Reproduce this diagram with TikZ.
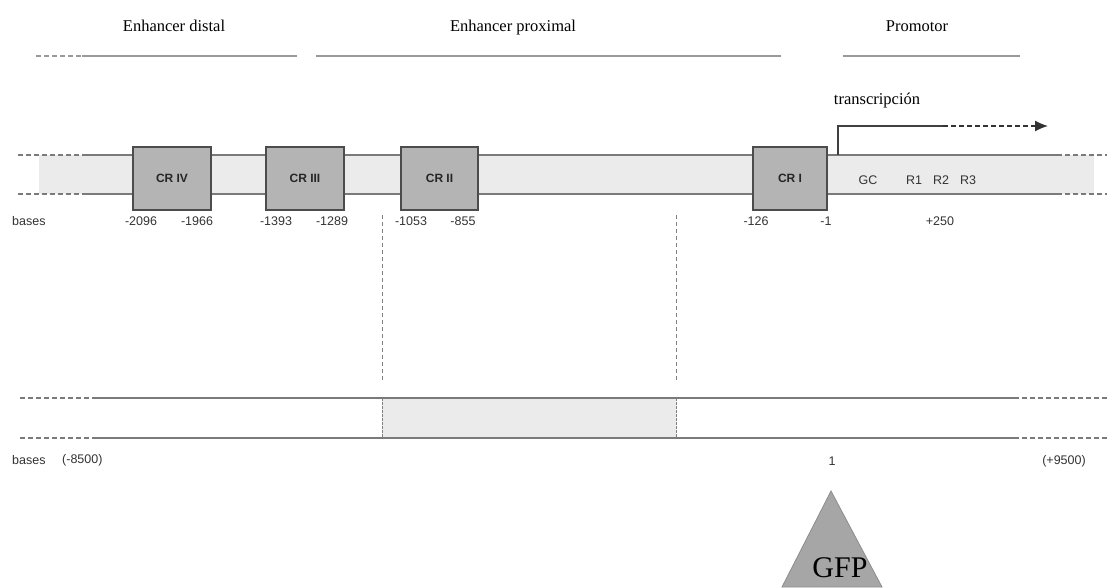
\documentclass[tikz,border=0pt]{standalone}
\usepackage{fontspec}
\setmainfont{Liberation Serif}
\setsansfont{Liberation Sans}
\usetikzlibrary{arrows.meta}
\definecolor{bargray}{HTML}{EBEBEB}
\definecolor{boxgray}{HTML}{B4B4B4}
\definecolor{linegray}{HTML}{7A7A7A}
\definecolor{headgray}{HTML}{9A9A9A}
\definecolor{gfpgray}{HTML}{A6A6A6}
\tikzset{
  crbox/.style={draw=black!70, fill=boxgray, line width=1.2pt, minimum height=63pt, inner sep=0pt,
    font=\sffamily\bfseries\fontsize{12}{14}\selectfont, text=black!85},
  poslabel/.style={font=\sffamily\fontsize{12.5}{14}\selectfont, text=black!80, inner sep=0pt},
  heading/.style={font=\fontsize{16.5}{20}\selectfont, inner sep=0pt, anchor=base},
  dnaline/.style={draw=linegray, line width=1.2pt},
  dnadash/.style={dnaline, dash pattern=on 5pt off 3pt},
  headline/.style={draw=headgray, line width=2pt},
}
\newcommand{\crbox}[4]{
\node[crbox,minimum width=#3pt] (#1) at (#2,178.5) {#4};
}
\newcommand{\basepos}[3]{
\node[poslabel] (#1) at (#2,221) {#3};
}
\newcommand{\dnabar}[5]{
\draw[dnadash] (#1,#3) -- (#2,#3);
\draw[dnaline] (#2,#3) -- (#4,#3);
\draw[dnadash] (#4,#3) -- (#5,#3);
}

\begin{document}
\begin{tikzpicture}[x=1pt,y=-1pt]
\useasboundingbox (0,0) rectangle (1107,587);

\node[heading] (distal) at (174,31) {Enhancer distal};
\node[heading] (proximal) at (513,31) {Enhancer proximal};
\node[heading] (promotor) at (917,31) {Promotor};
\draw[headline, dash pattern=on 5pt off 3pt] (36,56) -- (82,56);
\draw[headline] (82,56) -- (297,56);
\draw[headline] (316,56) -- (781,56);
\draw[headline] (843,56) -- (1020,56);

\fill[bargray] (39,155) rectangle (1094,194);
\dnabar{18}{83}{155}{1057}{1107}
\dnabar{18}{83}{194}{1057}{1107}

\crbox{cr4}{172}{78}{CR IV}
\crbox{cr3}{305}{78}{CR III}
\crbox{cr2}{439.5}{77}{\raisebox{-4pt}{CR II}}
\crbox{cr1}{790}{74}{\raisebox{-4pt}{CR I}}

\node[poslabel,anchor=west] (bases1) at (12,221) {bases};
\basepos{p2096}{141}{-2096}
\basepos{p1966}{197}{-1966}
\basepos{p1393}{276}{-1393}
\basepos{p1289}{332}{-1289}
\basepos{p1053}{411}{-1053}
\basepos{p855}{463}{-855}
\basepos{p126}{756}{-126}
\basepos{p1}{826}{-1}
\basepos{p250}{940}{+250}

\node[poslabel] (gc) at (868,180) {GC};
\node[poslabel] (r1) at (914,180) {R1};
\node[poslabel] (r2) at (941,180) {R2};
\node[poslabel] (r3) at (968,180) {R3};

\node[heading] (transc) at (877,104) {transcripción};
\coordinate (tss) at (838,155);
\coordinate (tssup) at (838,126);
\coordinate (dashstart) at (943,126);
\coordinate (tip) at (1048,126);
\draw[line width=1.3pt, black!75] (tss) -- (tssup) -- (dashstart);
\draw[line width=1.3pt, black!80, dash pattern=on 5pt off 3pt, -{Latex[length=13pt,width=11pt]}] (dashstart) -- (tip);

\coordinate (cutl) at (382,215);
\coordinate (cutr) at (676,215);
\coordinate (cutlb) at (382,398);
\coordinate (cutrb) at (676,398);
\draw[black!50, dash pattern=on 4pt off 3pt] (cutl) -- (382,380);
\draw[black!50, dash pattern=on 4pt off 3pt] (cutr) -- (676,380);

\fill[bargray] (cutlb) rectangle (676,438);
\draw[black!50, dash pattern=on 3pt off 1pt] (cutlb) -- (382,438);
\draw[black!50, dash pattern=on 3pt off 1pt] (cutrb) -- (676,438);
\dnabar{20}{92}{398}{1014}{1107}
\dnabar{20}{92}{438}{1014}{1107}

\node[poslabel,anchor=west] (bases2) at (12,460) {bases};
\node[poslabel,anchor=west] (m8500) at (62,460) {(-8500)};
\node[poslabel] (p9500) at (1064,461) {(+9500)};
\node[poslabel] (one) at (832,461) {1};

\filldraw[fill=gfpgray, draw=black!45, line width=0.8pt] (831,491) -- (882,587) -- (782,587) -- cycle;
\node[heading, font=\fontsize{30}{34}\selectfont] (gfp) at (840,577) {GFP};
\end{tikzpicture}
\end{document}
